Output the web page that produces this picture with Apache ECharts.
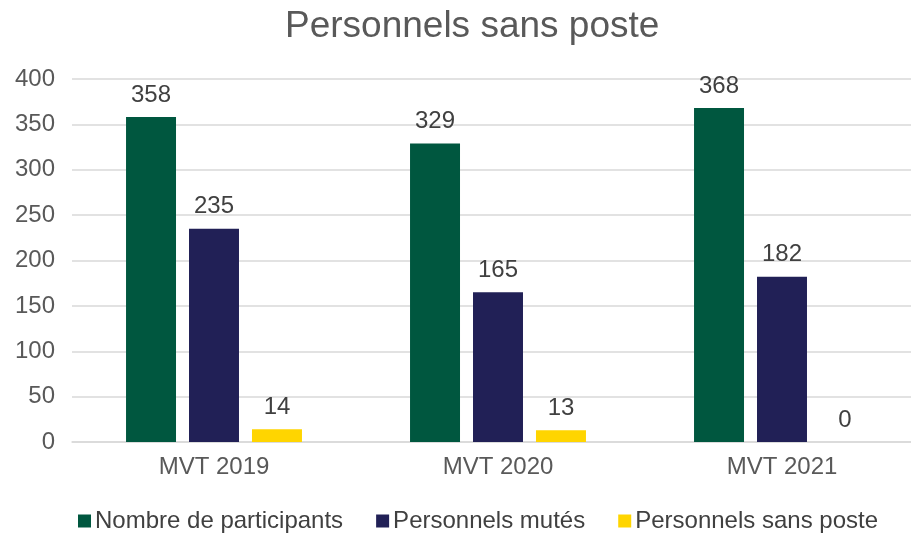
<!DOCTYPE html>
<html>
<head>
<meta charset="utf-8">
<script src="https://cdn.jsdelivr.net/npm/echarts@6/dist/echarts.min.js"></script>
<style>
  html, body { margin: 0; padding: 0; background: #fff; overflow: hidden; }
  #main { width: 924px; height: 534px; }
</style>
</head>
<body>
<div id="main"></div>
<script>
var categories = ["MVT 2019", "MVT 2020", "MVT 2021"];
var participants = [358, 329, 368];
var mutes = [235, 165, 182];
var sansPoste = [14, 13, 0];

// plot area runs a little past the right edge of the window, as in the source
var myChart = echarts.init(document.getElementById("main"));

var font = "Liberation Sans, Arial, sans-serif";
var labelStyle = {
  show: true,
  position: "top",
  distance: 10,
  color: "#404040",
  fontSize: 24,
  fontFamily: font
};

const option = {
  animation: false,
  title: {
    text: "Personnels sans poste",
    left: 280,
    top: 3,
    textStyle: {
      color: "#595959",
      fontSize: 37,
      fontWeight: "normal",
      fontFamily: font
    }
  },
  legend: {
    bottom: -4,
    left: 73,
    itemWidth: 13,
    itemHeight: 13,
    itemGap: 33,
    icon: "rect",
    textStyle: {
      color: "#404040",
      fontSize: 24,
      padding: [0, 0, 0, -1],
      fontFamily: font
    }
  },
  grid: {
    left: 72,
    right: 0,
    top: 79,
    bottom: 92,
    containLabel: false
  },
  xAxis: {
    type: "category",
    data: categories,
    axisTick: { show: false },
    axisLine: { lineStyle: { color: "#d9d9d9", width: 1.5 } },
    axisLabel: {
      color: "#595959",
      fontSize: 24,
      margin: 13,
      fontFamily: font
    }
  },
  yAxis: {
    type: "value",
    min: 0,
    max: 400,
    interval: 50,
    axisLabel: {
      color: "#595959",
      fontSize: 24,
      margin: 17,
      fontFamily: font
    },
    splitLine: { lineStyle: { color: "#d9d9d9", width: 1.5 } }
  },
  series: [
    {
      name: "Nombre de participants",
      type: "bar",
      data: participants,
      barWidth: "17.6%",
      barGap: "26%",
      itemStyle: { color: "#00573F" },
      label: labelStyle
    },
    {
      name: "Personnels mutés",
      type: "bar",
      data: mutes,
      barWidth: "17.6%",
      barGap: "26%",
      itemStyle: { color: "#212056" },
      label: labelStyle
    },
    {
      name: "Personnels sans poste",
      type: "bar",
      data: sansPoste,
      barWidth: "17.6%",
      barGap: "26%",
      itemStyle: { color: "#FFD500" },
      label: labelStyle
    }
  ]
};

myChart.setOption(option);
</script>
</body>
</html>
